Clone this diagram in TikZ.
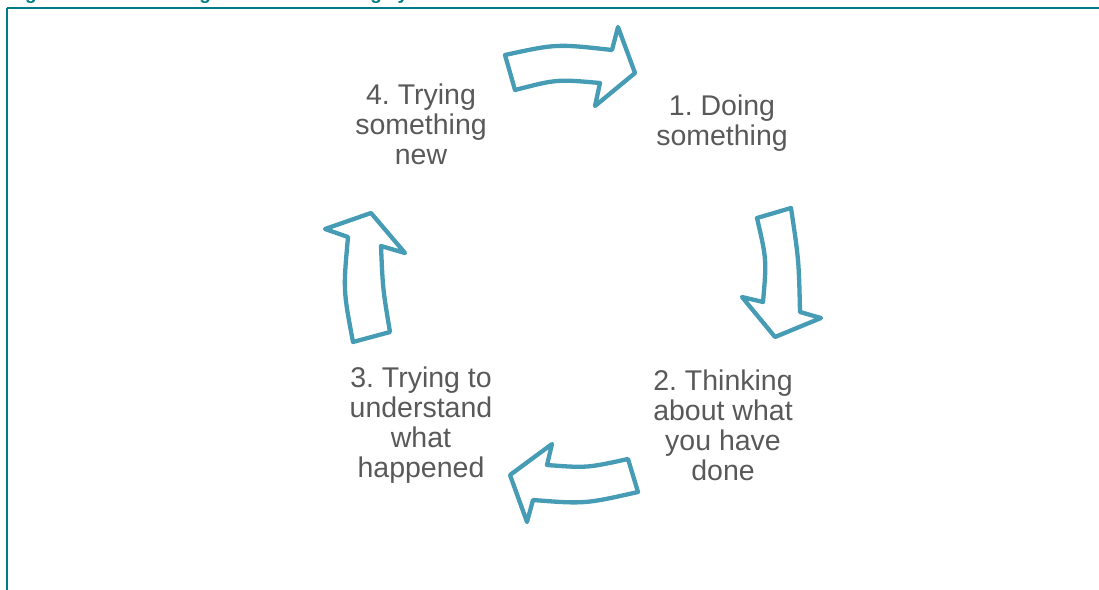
\documentclass[tikz,border=0pt]{standalone}
\usepackage{fontspec}
\setmainfont{Liberation Sans}
\frenchspacing
\definecolor{frameteal}{HTML}{007C86}
\definecolor{arrowblue}{HTML}{469CB4}
\definecolor{txtgrey}{HTML}{595959}
\begin{document}
\begin{tikzpicture}[x=1pt,y=-1pt,
  cyclearrow/.style={draw=arrowblue,line width=4.3pt,line join=round,fill=white},
  steptext/.style={text=txtgrey,align=center,font=\fontsize{28.5}{30}\selectfont,inner sep=0pt},
  frameline/.style={draw=frameteal,line width=1.8pt}]
\useasboundingbox (0,0) rectangle (1099,589);
% title (clipped at top)
\begin{scope}
\clip (0,0) rectangle (1099,589);
\node[anchor=base west,inner sep=0pt,text=frameteal,font=\fontsize{19}{21}\bfseries\selectfont] (title) at (8,-0.8) {Figure 5: Cartoon diagram of the learning cycle};
\draw[frameline] (6.8,7.7) -- (1110,7.7);
\draw[frameline] (6.8,7.7) -- (6.8,600);
\end{scope}
% arrow 1 (top, right)
\draw[cyclearrow] (505,55) .. controls (556.5,43.8) .. (612,50) -- (618,27) -- (635,73) -- (595,106) -- (600,83)
   .. controls (556.8,79.2) .. (515,90) -- cycle;
% arrow 2 (right, down)
\draw[cyclearrow] (757,218) -- (791,208) .. controls (798.8,260) .. (800,312) -- (821,318) -- (775,337) -- (742,297) -- (763,302)
   .. controls (766.7,260) .. (757,218) -- cycle;
% arrow 3 (bottom, left)
\draw[cyclearrow] (628,459) .. controls (586.8,468) .. (547,465) -- (552,444) -- (510,475) -- (527,522) -- (533,500)
   .. controls (584.8,504) .. (638,492) -- cycle;
% arrow 4 (left, up)
\draw[cyclearrow] (353,342) -- (390,332) .. controls (382.8,289) .. (381,246) -- (405,253) -- (371,213) -- (325,229) -- (348,237)
   .. controls (343.2,290.2) .. (353,342) -- cycle;
% texts
\node[steptext] (s1) at (722,123) {1. Doing\\something};
\node[steptext] (s2) at (723,425) {2. Thinking\\about what\\you have\\done};
\node[steptext] (s3) at (421,425) {3. Trying to\\understand\\what\\happened};
\node[steptext] (s4) at (421,124) {4. Trying\\something\\new};
\end{tikzpicture}
\end{document}
